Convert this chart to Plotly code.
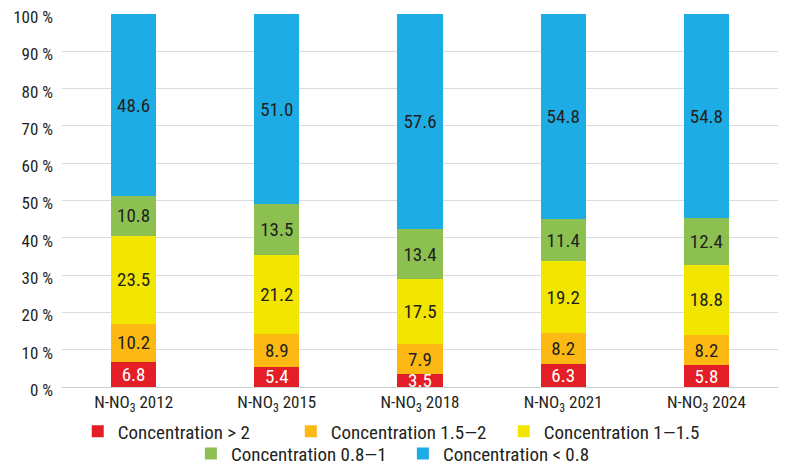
import plotly.graph_objects as go

years = ["2012", "2015", "2018", "2021", "2024"]
categories = ["N-NO<sub>3</sub> " + y for y in years]

gt2 = [6.8, 5.4, 3.5, 6.3, 5.8]
c15_2 = [10.2, 8.9, 7.9, 8.2, 8.2]
c1_15 = [23.5, 21.2, 17.5, 19.2, 18.8]
c08_1 = [10.8, 13.5, 13.4, 11.4, 12.4]
lt08 = [48.6, 51.0, 57.6, 54.8, 54.8]

series = [
    ("Concentration > 2", gt2, "#E41E26", "white", "legend"),
    ("Concentration 1.5\u20142", c15_2, "#FDB913", "#231F20", "legend"),
    ("Concentration 1\u20141.5", c1_15, "#F2E500", "#231F20", "legend"),
    ("Concentration 0.8\u20141", c08_1, "#8CC152", "#231F20", "legend2"),
    ("Concentration < 0.8", lt08, "#1EACE4", "#231F20", "legend2"),
]

font = "Roboto Condensed, DejaVu Sans Condensed, Liberation Sans Narrow, Roboto"

fig = go.Figure()
for name, vals, color, tcol, leg in series:
    fig.add_trace(go.Bar(
        x=categories, y=vals, name=name,
        marker=dict(color=color, line=dict(width=0)),
        texttemplate="%{y:.1f}", textposition="inside",
        insidetextanchor="middle", textangle=0,
        textfont=dict(color=tcol, size=19, family=font),
        width=0.315, legend=leg,
    ))

# page body has an 8px margin, so the figure is sized to fit inside it
fig.update_layout(
    barmode="stack",
    width=784, height=457,
    margin=dict(l=54, r=14, t=6, b=78, autoexpand=False),
    paper_bgcolor="white", plot_bgcolor="white",
    font=dict(family=font, size=17, color="#231F20"),
    uniformtext=dict(minsize=19, mode="show"),
    legend=dict(orientation="h", x=0.022, xanchor="left", y=-0.068, yanchor="top",
                entrywidth=168, font=dict(size=19), traceorder="normal",
                itemwidth=30, bgcolor="rgba(0,0,0,0)"),
    legend2=dict(orientation="h", x=0.18, xanchor="left", y=-0.128, yanchor="top",
                 entrywidth=167, font=dict(size=19), traceorder="normal",
                 itemwidth=30, bgcolor="rgba(0,0,0,0)"),
    xaxis=dict(showgrid=False, showline=True, linecolor="#d0d0d0", linewidth=1,
               ticks="", tickfont=dict(size=17)),
    yaxis=dict(range=[0, 100], dtick=10, ticksuffix=" %", showgrid=True,
               gridcolor="#dcdcdc", gridwidth=1, zeroline=False,
               tickfont=dict(size=17), ticklabelstandoff=8, ticklabelshift=3,
               ticklabeloverflow="allow"),
)

fig.write_html("out.html")
